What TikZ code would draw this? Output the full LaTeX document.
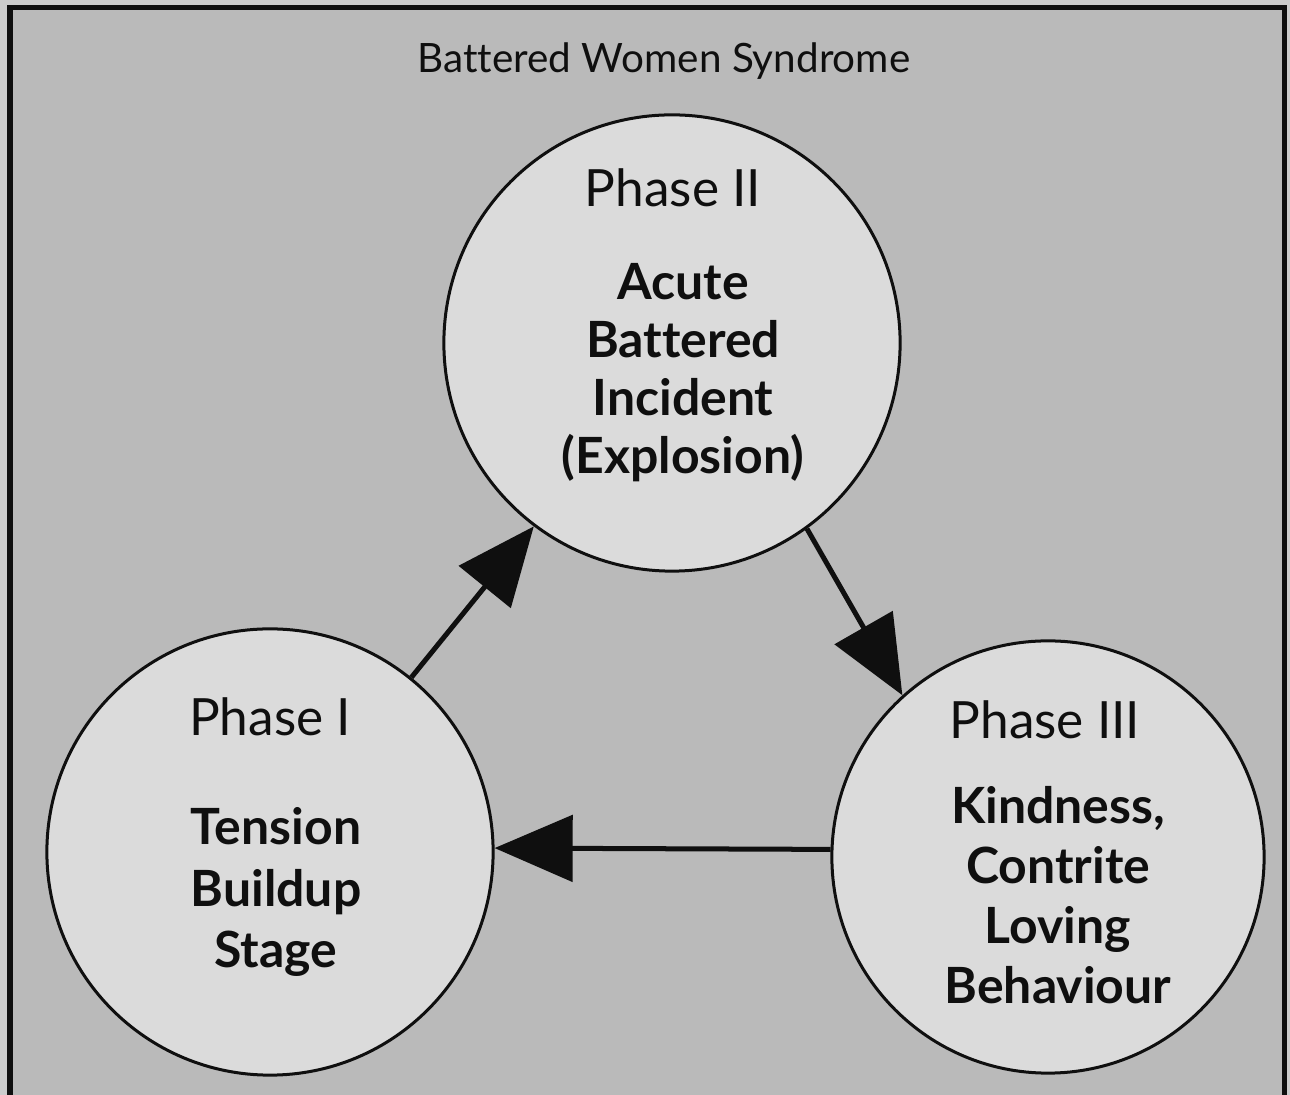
\documentclass[tikz,border=0pt]{standalone}
\usepackage{fontspec}
\setmainfont{Lato}[Ligatures={NoCommon}]
\usetikzlibrary{arrows.meta}
\definecolor{outerbg}{gray}{0.80}
\definecolor{innerbg}{gray}{0.73}
\definecolor{circfill}{gray}{0.86}
\definecolor{ink}{gray}{0.06}
\tikzset{
  phasecirc/.style={circle, draw=ink, line width=0.03cm, fill=circfill, inner sep=0pt},
  phaselabel/.style={text=ink, font=\fontsize{14.6}{17}\selectfont},
  phasebody/.style={text=ink, align=center, font=\bfseries\fontsize{14}{16.8}\selectfont},
  arr/.style={draw=ink, line width=0.05cm, -{Triangle[length=0.78cm, width=0.66cm]}},
}
\begin{document}
\begin{tikzpicture}[x=0.01cm, y=-0.01cm]
\useasboundingbox (0,0) rectangle (1290,1095);
\clip (0,0) rectangle (1290,1095);
\fill[outerbg] (0,0) rectangle (1290,1095);
\draw[ink, line width=0.05cm, fill=innerbg] (10,8) rectangle (1284,1140);
\node[text=ink, font=\fontsize{11.5}{13}\selectfont] (title) at (664,61) {Battered Women Syndrome};
% circles
\node[phasecirc, minimum size=4.56cm] (p2) at (672,343) {};
\node[phasecirc, minimum size=4.46cm] (p1) at (270,852) {};
\node[phasecirc, minimum size=4.32cm] (p3) at (1048,857) {};
% texts
\node[phaselabel] (l2) at (673,188) {Phase II};
\node[phasebody, font=\bfseries\fontsize{14.2}{16.5}\selectfont] (b2) at (683,373) {Acute\\Battered\\Incident\\(Explosion)};
\node[phaselabel] (l1) at (270,717) {Phase I};
\node[phasebody, font=\bfseries\fontsize{14.2}{17.6}\selectfont] (b1) at (276,892) {Tension\\Buildup\\Stage};
\node[phaselabel] (l3) at (1045,720) {Phase III};
\node[phasebody, font=\bfseries\fontsize{14.2}{17}\selectfont] (b3) at (1058,895) {Kindness,\\Contrite\\Loving\\Behaviour};
% arrows
\draw[arr] (p1.51.6) -- (p2.233);
\draw[arr] (p2.306.3) -- (p3.132.2);
\draw[arr] (p3.178.5) -- (p1.1.8);
\end{tikzpicture}
\end{document}
